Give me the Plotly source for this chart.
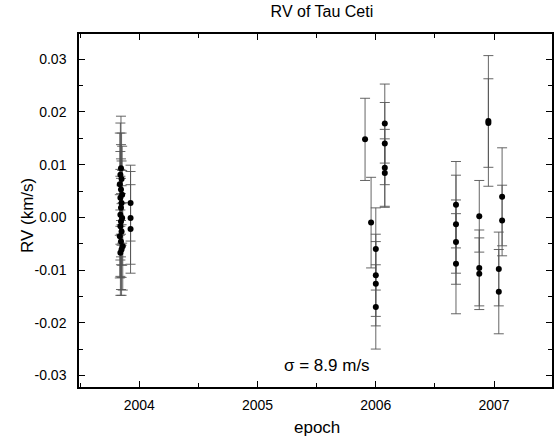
import plotly.graph_objects as go

# --- data (epoch in years, RV in km/s) ---
epoch = [
    2003.845, 2003.840, 2003.850, 2003.835, 2003.845, 2003.855, 2003.840, 2003.850,
    2003.845, 2003.840, 2003.855, 2003.845, 2003.840, 2003.850, 2003.835, 2003.845,
    2003.860, 2003.850, 2003.840,
    2003.926, 2003.926, 2003.926,
    2005.909, 2005.960,
    2006.000, 2006.000, 2006.000, 2006.000,
    2006.076, 2006.076, 2006.076, 2006.076,
    2006.678, 2006.678, 2006.678, 2006.678,
    2006.875, 2006.875, 2006.875,
    2006.952, 2006.952,
    2007.040, 2007.040,
    2007.068, 2007.068,
]
rv = [
    0.0093, 0.0081, 0.0073, 0.0063, 0.0053, 0.0043, 0.0037, 0.0027,
    0.0018, 0.0005, -0.0001, -0.0008, -0.0017, -0.0027, -0.0036, -0.0046,
    -0.0055, -0.0061, -0.0067,
    0.0027, -0.0001, -0.0022,
    0.0148, -0.0010,
    -0.0060, -0.0110, -0.0126, -0.0170,
    0.0178, 0.0140, 0.0094, 0.0084,
    0.0024, -0.0013, -0.0047, -0.0088,
    0.0002, -0.0096, -0.0107,
    0.0183, 0.0179,
    -0.0098, -0.0141,
    0.0039, -0.0006,
]
rv_err = [
    0.0099, 0.0098, 0.0087, 0.0097, 0.0085, 0.0092, 0.0088, 0.0080,
    0.0093, 0.0086, 0.0090, 0.0082, 0.0095, 0.0087, 0.0079, 0.0091,
    0.0083, 0.0087, 0.0081,
    0.0072, 0.0088, 0.0084,
    0.0078, 0.0086,
    0.0078, 0.0078, 0.0080, 0.0080,
    0.0075, 0.0078, 0.0073, 0.0065,
    0.0082, 0.0093, 0.0080, 0.0095,
    0.0068, 0.0072, 0.0068,
    0.0124, 0.0084,
    0.0070, 0.0080,
    0.0093, 0.0067,
]

x_tickvals = [2004, 2005, 2006, 2007]
x_ticktext = ["2004", "2005", "2006", "2007"]
y_tickvals = [0.03, 0.02, 0.01, 0.00, -0.01, -0.02, -0.03]
y_ticktext = ["0.03", "0.02", "0.01", "0.00", "-0.01", "-0.02", "-0.03"]

FONT = "Liberation Sans, Arial, sans-serif"

fig = go.Figure()
fig.add_trace(go.Scatter(
    x=epoch, y=rv, mode="markers",
    marker=dict(color="black", size=6, symbol="circle"),
    error_y=dict(type="data", array=rv_err, visible=True,
                 color="#555555", thickness=0.9, width=5),
    showlegend=False,
))

axis_common = dict(
    showline=True, linecolor="black", linewidth=1.5, mirror="ticks",
    ticks="inside", ticklen=6, tickcolor="black", tickwidth=1.2,
    showgrid=False, zeroline=False, automargin=False,
    tickfont=dict(family=FONT, size=14, color="black"),
)

fig.update_layout(
    width=555, height=439,
    paper_bgcolor="white", plot_bgcolor="white",
    margin=dict(l=79, r=3, t=34, b=52),
    title=dict(text="RV of Tau Ceti", x=0.58, xanchor="center",
               y=0.975, yanchor="middle", yref="container",
               font=dict(family=FONT, size=16, color="black")),
    xaxis=dict(
        range=[2003.49, 2007.49],
        tickvals=x_tickvals, ticktext=x_ticktext,
        minor=dict(ticks="inside", ticklen=4, tickcolor="black", dtick=0.5, tick0=2003.5),
        ticklabelstandoff=4,
        **axis_common,
    ),
    yaxis=dict(
        range=[-0.0322, 0.0348],
        tickvals=y_tickvals, ticktext=y_ticktext,
        minor=dict(ticks="inside", ticklen=4, tickcolor="black", dtick=0.005, tick0=0),
        ticklabelstandoff=8,
        **axis_common,
    ),
)

# axis titles placed as annotations for exact positioning
fig.add_annotation(
    x=0.5025, y=-0.116, xref="paper", yref="paper",
    text="epoch", showarrow=False, xanchor="center", yanchor="middle",
    font=dict(family=FONT, size=17, color="black"),
)
fig.add_annotation(
    x=-0.11, y=0.487, xref="paper", yref="paper",
    text="RV (km/s)", showarrow=False, textangle=-90,
    xanchor="center", yanchor="middle",
    font=dict(family=FONT, size=17, color="black"),
)
fig.add_annotation(
    x=0.524, y=0.0595, xref="paper", yref="paper",
    text="σ = 8.9 m/s", showarrow=False,
    xanchor="center", yanchor="middle",
    font=dict(family=FONT, size=17, color="black"),
)

fig.write_html(
    "out.html",
    config={"displayModeBar": False},
    post_script="document.body.style.margin='0';document.body.style.overflow='hidden';",
)
